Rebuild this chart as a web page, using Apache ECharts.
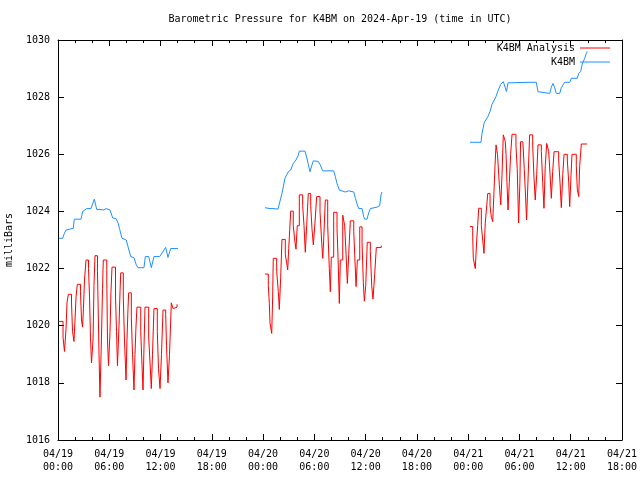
<!DOCTYPE html>
<html><head><meta charset="utf-8">
<script src="https://cdn.jsdelivr.net/npm/echarts@6/dist/echarts.min.js"></script>
<style>html,body{margin:0;padding:0;background:#fff}#c{width:640px;height:480px}</style>
</head><body><div id="c"></div>
<script>
// ---- text ----
const chartTitle = 'Barometric Pressure for K4BM on 2024-Apr-19 (time in UTC)';
const yAxisName = 'milliBars';
const nameAnalysis = 'K4BM Analysis';
const nameStation = 'K4BM';
// ---- axes (x in hours since 04/19 00:00 UTC) ----
const yMin = 1016, yMax = 1030, yStep = 2;
const xMin = 0, xMax = 66, xStep = 6;
const monthLabel = '04';
const firstDay = 19;

// ---- K4BM Analysis (red), three daily segments: hours / mb ----
const analysis1T = [0.06,0.59,0.76,0.94,1.05,1.21,1.58,1.70,1.87,1.99,2.11,2.26,2.63,2.75,2.87,2.98,3.10,3.28,3.57,3.69,3.80,3.92,4.10,4.21,4.33,4.62,4.80,4.91,5.09,5.21,5.30,5.71,5.79,5.91,6.09,6.20,6.32,6.73,6.85,6.96,7.14,7.26,7.34,7.64,7.78,7.96,8.07,8.19,8.27,8.58,8.72,8.89,9.01,9.13,9.24,9.68,9.83,9.95,10.06,10.18,10.61,10.77,10.92,11.06,11.23,11.62,11.76,11.94,12.11,12.29,12.60,12.70,12.87,13.05,13.26,13.46,13.69,13.93];
const analysis1V = [1020.15,1019.6,1019.1,1019.9,1020.8,1021.1,1020.8,1019.8,1019.45,1020.2,1021.0,1021.45,1021.2,1020.2,1019.95,1020.6,1021.6,1022.3,1022.0,1021.0,1019.6,1018.7,1019.5,1021.4,1022.45,1021.9,1019.0,1017.5,1019.6,1021.3,1022.3,1021.6,1019.5,1018.6,1019.8,1021.2,1022.05,1021.0,1019.8,1018.6,1020.0,1021.2,1021.85,1021.0,1019.5,1018.1,1019.5,1020.6,1021.15,1020.3,1019.0,1017.75,1019.0,1020.0,1020.65,1019.8,1018.6,1017.75,1019.2,1020.65,1019.6,1018.7,1017.8,1019.0,1020.6,1019.8,1018.5,1017.8,1019.0,1020.55,1020.4,1019.3,1018.0,1019.0,1020.8,1020.6,1020.65,1020.75];
const analysis2T = [24.22,24.61,24.73,24.81,25.01,25.12,25.19,25.59,25.78,25.90,26.06,26.21,26.60,26.76,26.88,27.00,27.23,27.53,27.70,27.85,28.00,28.24,28.63,28.79,28.94,29.10,29.29,29.57,29.72,29.88,30.07,30.27,30.66,30.86,30.98,31.09,31.28,31.56,31.75,31.87,31.98,32.26,32.65,32.77,32.92,33.04,33.32,33.55,33.71,33.86,34.02,34.21,34.61,34.72,34.88,35.03,35.31,35.58,35.73,35.85,36.01,36.19,36.55,36.71,36.86,37.06,37.25,37.83,37.91];
const analysis2V = [1021.81,1021.4,1020.78,1020.1,1019.73,1021.0,1022.36,1021.9,1021.2,1020.57,1021.7,1023.02,1022.5,1022.2,1021.95,1022.7,1024.01,1023.5,1023.0,1022.68,1023.5,1024.58,1024.2,1023.5,1022.57,1023.5,1024.63,1024.2,1023.4,1022.83,1023.6,1024.52,1024.0,1022.9,1022.36,1023.0,1024.4,1023.5,1022.0,1021.19,1022.4,1023.97,1023.4,1022.4,1020.78,1022.3,1023.87,1023.5,1022.5,1021.48,1022.5,1023.67,1023.3,1022.5,1021.37,1022.3,1023.46,1022.9,1021.5,1020.86,1021.4,1022.92,1022.6,1021.4,1020.93,1021.8,1022.74,1022.8,1022.8];
const analysis3T = [48.21,48.53,48.60,48.83,49.00,49.11,49.23,49.54,49.70,49.85,50.00,50.17,50.29,50.56,50.71,50.87,51.02,51.14,51.26,51.43,51.64,51.81,51.96,52.11,52.34,52.43,52.54,52.66,52.81,52.97,53.13,53.59,53.74,53.90,54.05,54.13,54.40,54.56,54.72,54.83,54.99,55.19,55.55,55.70,55.85,56.02,56.17,56.56,56.72,56.87,57.02,57.19,57.42,57.58,57.73,57.89,58.05,58.59,58.75,58.90,59.07,59.22,59.60,59.77,59.88,60.04,60.15,60.65,60.77,60.93,61.05,61.24,61.90];
const analysis3V = [1023.47,1023.1,1022.36,1022.0,1023.0,1023.5,1024.11,1023.5,1023.0,1022.53,1023.6,1024.2,1024.63,1024.2,1023.8,1023.64,1024.7,1025.6,1026.33,1026.0,1024.95,1024.23,1025.3,1026.68,1026.45,1026.0,1025.0,1024.05,1025.0,1026.0,1026.7,1026.3,1025.5,1023.6,1025.0,1026.44,1026.4,1025.5,1024.5,1023.7,1025.0,1026.68,1026.3,1025.2,1024.4,1025.3,1026.33,1026.1,1025.0,1024.11,1025.6,1026.38,1026.1,1025.3,1024.46,1025.4,1026.09,1025.8,1025.0,1024.13,1025.3,1026.0,1025.8,1025.0,1024.17,1025.3,1026.0,1025.6,1024.78,1024.52,1025.6,1026.36,1026.36];

// ---- K4BM station (blue) ----
const station1T = [0.12,0.55,0.70,0.94,1.14,1.79,1.91,2.69,2.89,3.36,3.86,3.98,4.25,4.53,4.68,4.91,5.38,5.62,6.09,6.20,6.40,6.79,7.02,7.20,7.49,7.99,8.19,8.51,8.89,9.16,9.36,10.06,10.22,10.61,10.92,11.23,11.90,12.09,12.60,12.87,13.19,14.04];
const station1V = [1023.06,1023.06,1023.2,1023.35,1023.41,1023.41,1023.73,1023.73,1024.0,1024.1,1024.1,1024.05,1024.43,1024.07,1024.03,1024.07,1024.05,1024.1,1024.05,1024.05,1023.77,1023.75,1023.6,1023.4,1023.06,1023.0,1022.77,1022.42,1022.38,1022.13,1022.03,1022.03,1022.42,1022.42,1022.03,1022.42,1022.42,1022.47,1022.74,1022.39,1022.7,1022.7];
const station2T = [24.22,24.81,25.01,25.16,25.74,25.90,26.21,26.56,26.95,27.23,27.53,27.85,28.12,28.24,28.90,29.10,29.49,29.69,29.88,30.46,30.66,30.98,32.26,32.45,32.65,32.92,33.62,34.02,34.61,34.80,35.03,35.19,35.58,35.77,35.89,36.16,36.36,36.55,37.33,37.64,37.80,37.91];
const station2V = [1024.13,1024.1,1024.03,1024.1,1024.08,1024.03,1024.63,1025.16,1025.39,1025.45,1025.68,1025.8,1025.97,1026.11,1026.11,1025.9,1025.39,1025.6,1025.77,1025.75,1025.65,1025.42,1025.42,1025.22,1024.98,1024.75,1024.68,1024.72,1024.68,1024.46,1024.23,1024.1,1024.1,1023.82,1023.73,1023.73,1023.95,1024.1,1024.15,1024.2,1024.58,1024.68];
const station3T = [48.21,49.50,49.62,49.89,50.08,50.31,50.56,50.79,51.02,51.26,51.45,51.81,52.11,52.34,52.48,52.58,52.66,55.23,55.97,56.17,56.37,57.54,57.73,57.93,58.10,58.31,58.71,58.90,59.29,59.88,60.07,60.77,60.93,61.05,61.17,61.32,61.44,61.63,61.82,61.94];
const station3V = [1026.42,1026.42,1026.73,1027.12,1027.15,1027.32,1027.5,1027.75,1027.8,1028.02,1028.19,1028.45,1028.54,1028.54,1028.2,1028.35,1028.5,1028.52,1028.52,1028.19,1028.13,1028.13,1028.35,1028.48,1028.35,1028.13,1028.13,1028.33,1028.52,1028.52,1028.66,1028.66,1028.83,1028.9,1028.9,1029.13,1029.2,1029.36,1029.53,1029.6];

const RED = '#ff0000', BLUE = '#1e90ff';
const FONT = 'DejaVu Sans Mono';

function zip(t, v) { return t.map((x, i) => [x, v[i]]); }
function pad(n) { return (n < 10 ? '0' : '') + n; }
function xLabel(h) {
  const d = firstDay + Math.floor(h / 24);
  return monthLabel + '/' + d + '\n' + pad(h % 24) + ':00';
}

const redSeries = [[analysis1T, analysis1V], [analysis2T, analysis2V], [analysis3T, analysis3V]].map(p => ({
  name: nameAnalysis, type: 'line', step: 'end', showSymbol: false, symbol: 'none',
  color: RED, lineStyle: { color: RED, width: 1 }, data: zip(p[0], p[1]), z: 3
}));
const blueSeries = [[station1T, station1V], [station2T, station2V], [station3T, station3V]].map(p => ({
  name: nameStation, type: 'line', showSymbol: false, symbol: 'none',
  color: BLUE, lineStyle: { color: BLUE, width: 1 }, data: zip(p[0], p[1]), z: 2
}));

const axisCommonX = {
  type: 'value', min: xMin, max: xMax, interval: xStep,
  axisLine: { show: true, onZero: false, lineStyle: { color: '#000', width: 1 } },
  axisTick: { show: true, inside: true, length: 6, lineStyle: { color: '#000' } },
  minorTick: { show: true, splitNumber: 3, length: 3, lineStyle: { color: '#000' } },
  splitLine: { show: false }, minorSplitLine: { show: false }
};
const axisCommonY = {
  type: 'value', min: yMin, max: yMax, interval: yStep,
  axisLine: { show: true, onZero: false, lineStyle: { color: '#000', width: 1 } },
  axisTick: { show: true, inside: true, length: 6, lineStyle: { color: '#000' } },
  splitLine: { show: false }
};
const legendCommon = {
  orient: 'vertical', right: 30, align: 'right', icon: 'rect', itemWidth: 30, itemHeight: 1,
  padding: 0, selectedMode: false,
  textStyle: { fontFamily: FONT, fontSize: 10, color: '#000' }
};

const chart = echarts.init(document.getElementById('c'), null, { renderer: 'canvas' });
chart.setOption({
  animation: false,
  backgroundColor: '#fff',
  title: {
    text: chartTitle, left: 340, top: 14, textAlign: 'center', padding: 0,
    textStyle: { fontFamily: FONT, fontSize: 10, fontWeight: 'normal', color: '#000' }
  },
  legend: [
    Object.assign({}, legendCommon, { data: [nameAnalysis], top: 43 }),
    Object.assign({}, legendCommon, { data: [nameStation], top: 57 })
  ],
  grid: { left: 58, right: 18, top: 40, bottom: 40, containLabel: false, outerBoundsMode: 'none' },
  xAxis: [
    Object.assign({}, axisCommonX, {
      position: 'bottom',
      axisLabel: { show: true, margin: 8, formatter: xLabel, fontFamily: FONT, fontSize: 10, color: '#000', lineHeight: 13 }
    }),
    Object.assign({}, axisCommonX, { position: 'top', axisLabel: { show: false } })
  ],
  yAxis: [
    Object.assign({}, axisCommonY, {
      position: 'left', name: yAxisName, nameLocation: 'middle', nameRotate: 90, nameGap: 44,
      nameTextStyle: { fontFamily: FONT, fontSize: 10, color: '#000' },
      axisLabel: { show: true, margin: 8, fontFamily: FONT, fontSize: 10, color: '#000', formatter: v => String(v) }
    }),
    Object.assign({}, axisCommonY, { position: 'right', axisLabel: { show: false } })
  ],
  series: redSeries.concat(blueSeries)
});
</script></body></html>
